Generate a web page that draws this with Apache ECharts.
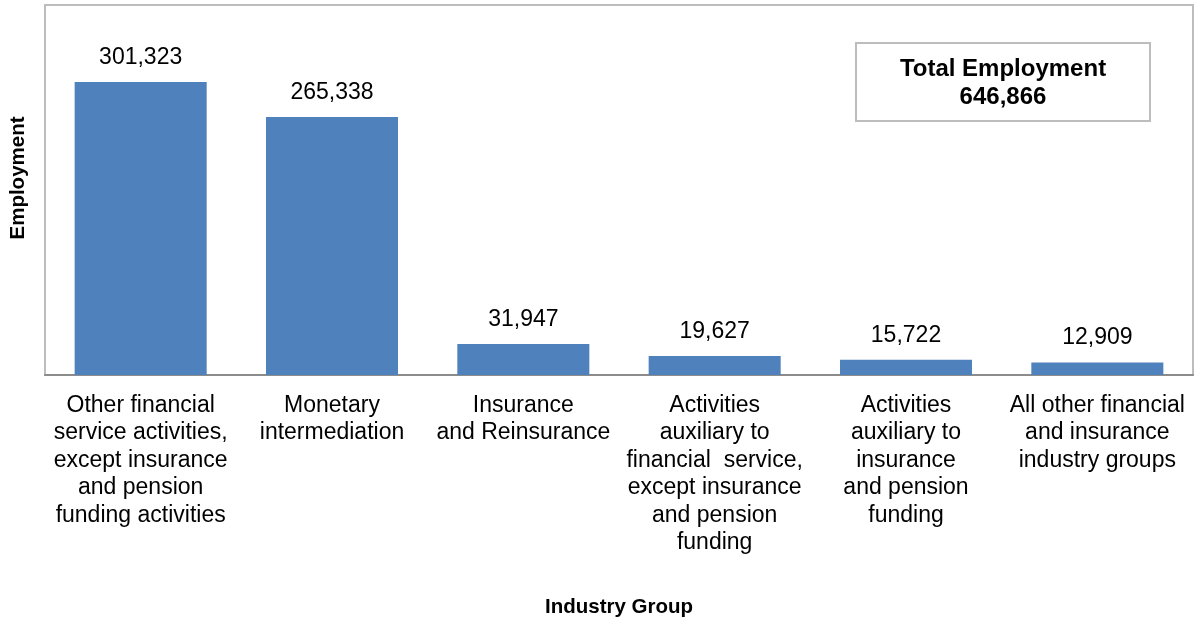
<!DOCTYPE html>
<html><head><meta charset="utf-8">
<script src="https://cdn.jsdelivr.net/npm/echarts@6/dist/echarts.min.js"></script>
<style>html,body{margin:0;padding:0;background:#fff}#c{width:1199px;height:619px}</style>
</head><body><div id="c"></div>
<script>
const categories = [
  "Other financial\nservice activities,\nexcept insurance\nand pension\nfunding activities",
  "Monetary\nintermediation",
  "Insurance\nand Reinsurance",
  "Activities\nauxiliary to\nfinancial  service,\nexcept insurance\nand pension\nfunding",
  "Activities\nauxiliary to\ninsurance\nand pension\nfunding",
  "All other financial\nand insurance\nindustry groups"
];
const employment = [301323, 265338, 31947, 19627, 15722, 12909];
const totalEmployment = 646866;

const chart = echarts.init(document.getElementById('c'));
const font = "Liberation Sans";
chart.setOption({
  animation: false,
  textStyle: { fontFamily: font },
  grid: { left: 45, right: 6, top: 5, bottom: 244, show: true, borderColor: '#bdbdbd', borderWidth: 2,
          containLabel: false, outerBoundsMode: 'none' },
  xAxis: {
    type: 'category', data: categories,
    name: 'Industry Group', nameLocation: 'middle', nameGap: 222,
    nameTextStyle: { fontSize: 20.5, fontWeight: 'bold', color: '#000', fontFamily: font },
    axisLine: { lineStyle: { color: '#8c8c8c', width: 2 } },
    axisTick: { show: false },
    axisLabel: { interval: 0, margin: 17, fontSize: 23, lineHeight: 27.4, color: '#000', fontFamily: font }
  },
  yAxis: {
    type: 'value', min: 0, max: 380500,
    name: 'Employment', nameLocation: 'middle', nameGap: 16, nameRotate: 90,
    nameTextStyle: { fontSize: 20.5, fontWeight: 'bold', color: '#000', fontFamily: font, padding: [0, 0, 0, 24] },
    axisLine: { show: false }, axisTick: { show: false }, axisLabel: { show: false }, splitLine: { show: false }
  },
  series: [{
    type: 'bar', data: employment, barWidth: '69%',
    itemStyle: { color: '#4F81BD' },
    label: { show: true, position: 'top', distance: 13, fontSize: 23, color: '#000', fontFamily: font,
      formatter: p => p.value.toLocaleString('en-US') }
  }],
  graphic: [{
    type: 'group', left: 855, top: 42,
    children: [
      { type: 'rect', shape: { x: 0, y: 0, width: 294, height: 78 }, style: { fill: '#fff', stroke: '#bdbdbd', lineWidth: 2 } },
      { type: 'text', x: 147, y: 26, style: { text: 'Total Employment', font: "bold 24px 'Liberation Sans'", fill: '#000', align: 'center', verticalAlign: 'middle' } },
      { type: 'text', x: 147, y: 54, style: { text: totalEmployment.toLocaleString('en-US'), font: "bold 24px 'Liberation Sans'", fill: '#000', align: 'center', verticalAlign: 'middle' } }
    ]
  }]
});
</script></body></html>
